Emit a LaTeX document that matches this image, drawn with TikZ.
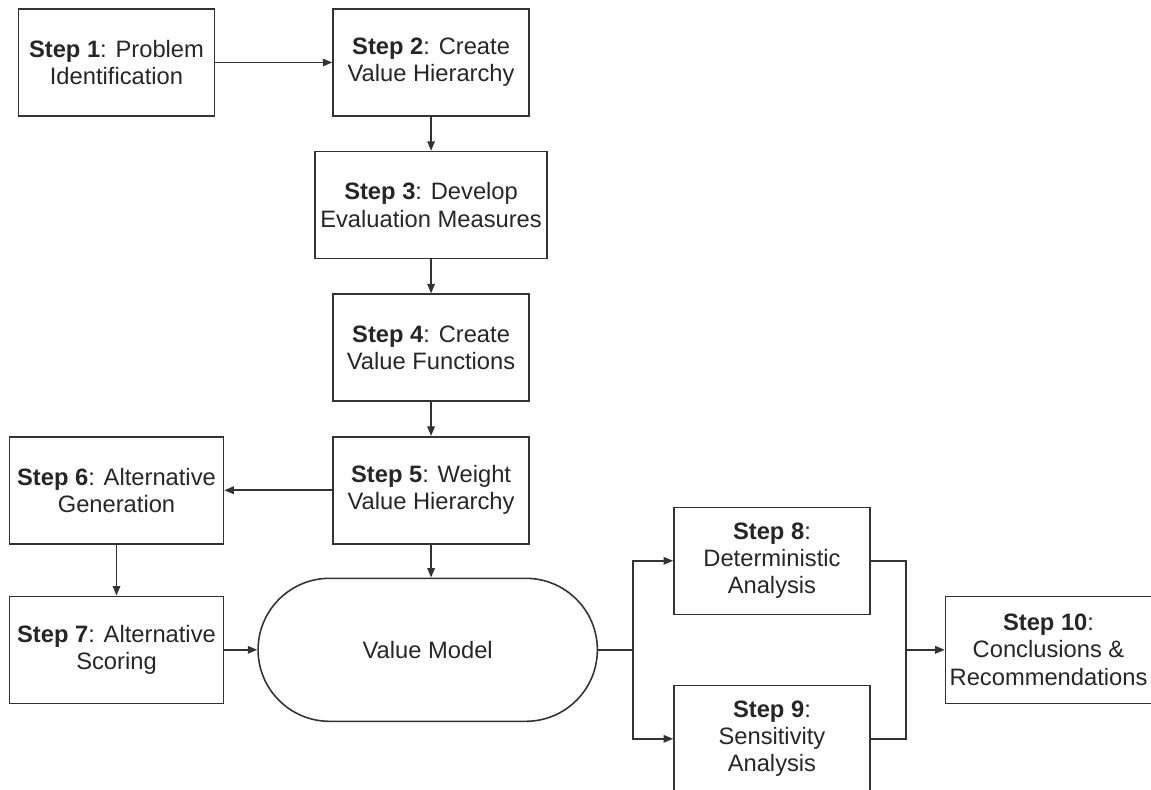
\documentclass[tikz,border=0pt]{standalone}
\usepackage{fontspec}
\setmainfont{Liberation Sans}
\usepackage{tikz}
\usetikzlibrary{shapes.misc, arrows.meta, positioning}

\begin{document}
\begin{tikzpicture}[
    font=\fontsize{13.5}{15.5}\selectfont,
    stepbox/.style={rectangle, draw=black!80, line width=0.9pt, text=black!85, align=center, minimum width=3.92cm, minimum height=2.14cm, inner sep=2pt},
    modelbox/.style={rounded rectangle, draw=black!80, line width=0.9pt, text=black!85, minimum width=7.02cm, minimum height=2.86cm},
    arrow/.style={-{Triangle[length=1.9mm, width=1.5mm]}, line width=0.9pt, draw=black!80}
]
\useasboundingbox (0,0) rectangle (23.02,-15.8);

% Value hierarchy steps
\node[stepbox] (s1) at (2.33,-1.25) {\textbf{Step 1}: Problem\\Identification};
\node[stepbox, right=2.34cm of s1] (s2) {\textbf{Step 2}: Create\\Value Hierarchy};
\node[stepbox, below=0.68cm of s2, minimum width=4.64cm] (s3) {\textbf{Step 3}: Develop\\Evaluation Measures};
\node[stepbox, below=0.68cm of s3] (s4) {\textbf{Step 4}: Create\\Value Functions};
\node[stepbox, below=0.68cm of s4] (s5) {\textbf{Step 5}: Weight\\Value Hierarchy};

% Alternatives
\node[stepbox, left=2.16cm of s5, minimum width=4.28cm] (s6) {\textbf{Step 6}: Alternative\\Generation};
\node[stepbox, below=1.02cm of s6, minimum width=4.28cm] (s7) {\textbf{Step 7}: Alternative\\Scoring};

% Model and analysis
\node[modelbox, right=0.66cm of s7] (vm) {Value Model};
\coordinate[right=0.7cm of vm] (split);
\node[stepbox, right=0.8cm of split, yshift=1.78cm] (s8) {\textbf{Step 8}:\\Deterministic\\Analysis};
\node[stepbox, right=0.8cm of split, yshift=-1.78cm] (s9) {\textbf{Step 9}:\\Sensitivity\\Analysis};
\coordinate[right=0.7cm of s8.east, yshift=-1.78cm] (merge);
\node[stepbox, right=0.78cm of merge, minimum width=4.12cm] (s10) {\textbf{Step 10}:\\Conclusions \&\\Recommendations};

% Arrows
\draw[arrow] (s1) -- (s2);
\draw[arrow] (s2) -- (s3);
\draw[arrow] (s3) -- (s4);
\draw[arrow] (s4) -- (s5);
\draw[arrow] (s5) -- (s6);
\draw[arrow] (s6) -- (s7);
\draw[arrow] (s5.south) -- (s5.south |- vm.north);
\draw[arrow] (s7) -- (vm);

\draw[arrow] (vm.east) -- (split) |- (s8);
\draw[arrow] (split) |- (s9);
\draw[line width=0.9pt, black!80] (s8.east) -| (merge);
\draw[line width=0.9pt, black!80] (s9.east) -| (merge);
\draw[arrow] (merge) -- (s10);

\end{tikzpicture}
\end{document}
